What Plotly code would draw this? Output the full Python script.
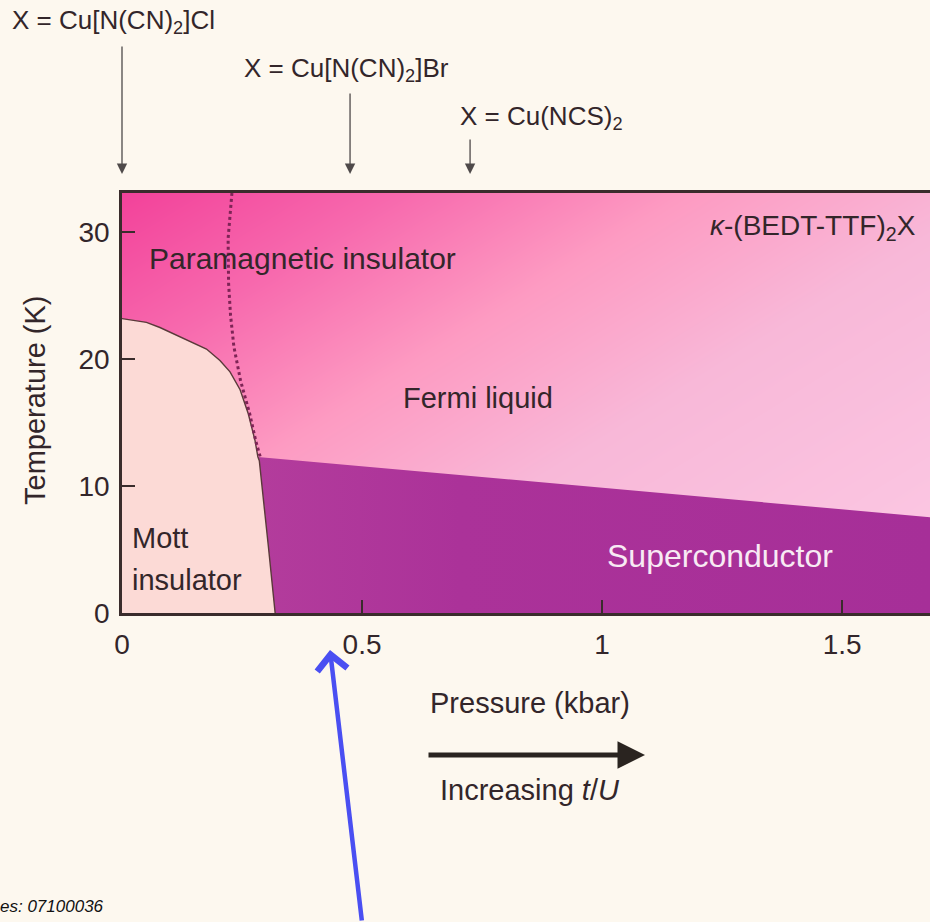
import numpy as np
import plotly.graph_objects as go

# --- phase-diagram data: pressure (kbar), temperature (K) ---
# Mott insulator boundary
mott_p = [0.0, 0.051, 0.079, 0.135, 0.176, 0.204, 0.225, 0.246, 0.263, 0.277, 0.283, 0.286, 0.295, 0.305, 0.319]
mott_t = [23.2, 22.9, 22.5, 21.5, 20.8, 19.9, 19.0, 17.6, 15.7, 13.6, 12.3, 12.0, 8.9, 5.2, 0.0]
# superconducting transition line
tc_p = [0.283, 1.683]
tc_t = [12.3, 7.55]
# insulator / Fermi-liquid crossover (dotted)
cross_p = [0.229, 0.221, 0.222, 0.226, 0.233, 0.247, 0.266, 0.279, 0.288]
cross_t = [33.1, 29.5, 26.0, 23.5, 21.0, 18.3, 15.7, 13.5, 12.3]
# ambient-pressure positions of the three salts
materials = ["X = Cu[N(CN)<sub>2</sub>]Cl", "X = Cu[N(CN)<sub>2</sub>]Br", "X = Cu(NCS)<sub>2</sub>"]
material_p = [0.0, 0.475, 0.725]
# axes
x_ticks = [0, 0.5, 1, 1.5]
x_ticktext = ["0", "0.5", "1", "1.5"]
y_ticks = [0, 10, 20, 30]
x_range = [0, 1.683]
y_range = [0, 33.1]

FONT = "Liberation Sans, Arial, Helvetica, sans-serif"
INK = "#33262a"
BG = "#fdf8ef"

W, H = 930, 922
L, T, B = 122, 193, 309
PW, PH = W - L, H - T - B


def px(xp):
    return (xp - L) / PW


def py(yp):
    return (H - B - yp) / PH


fig = go.Figure()

# pink background wash of the normal-state region
gx = np.linspace(-0.05, 1.75, 60)
gy = np.linspace(-1, 34, 45)
GX, GY = np.meshgrid(gx, gy)
shade = np.clip(0.6 * GX / 1.683 + 0.5 * (33.1 - GY) / 33.1, 0, 1)
fig.add_trace(go.Heatmap(
    x=gx, y=gy, z=shade, zmin=0, zmax=1, zsmooth="best", showscale=False,
    hoverinfo="skip",
    colorscale=[[0, "#f2429a"], [0.2, "#f768ad"], [0.42, "#fd9bc2"],
                [0.65, "#f8b8d8"], [1, "#fbc6e2"]],
))

# Mott insulator region
fig.add_trace(go.Scatter(
    x=[0] + mott_p + [0], y=[0] + mott_t + [0], fill="toself",
    fillcolor="#fcdad6", line=dict(width=0), mode="lines", hoverinfo="skip",
))

# superconducting region: below the Tc line and right of the Mott boundary
k = mott_p.index(tc_p[0])
sc_x = [tc_p[0]] + mott_p[k + 1:] + [tc_p[-1], tc_p[-1], tc_p[0]]
sc_y = [tc_t[0]] + mott_t[k + 1:] + [0, tc_t[-1], tc_t[0]]
fig.add_trace(go.Scatter(
    x=sc_x, y=sc_y, fill="toself", mode="lines", line=dict(width=0),
    fillgradient=dict(type="horizontal",
                      colorscale=[[0, "#b33c9c"], [0.3, "#ab3299"], [1, "#a62f98"]]),
    hoverinfo="skip",
))

# boundary lines
fig.add_trace(go.Scatter(
    x=mott_p, y=mott_t, mode="lines", line=dict(color="#5a3a3a", width=1.4),
    hoverinfo="skip",
))
fig.add_trace(go.Scatter(
    x=cross_p, y=cross_t, mode="lines",
    line=dict(color="#7e2456", width=3, dash="dot"), hoverinfo="skip",
))

ann = []


def label(text, xp, yp, size=29, color=INK, xanchor="left", **kw):
    ann.append(dict(text=text, xref="paper", yref="paper", x=px(xp), y=py(yp),
                    xanchor=xanchor, yanchor="middle", showarrow=False,
                    font=dict(family=FONT, size=size, color=color), **kw))


# region labels
label("Paramagnetic insulator", 147, 258, size=30)
label("<i>κ</i>-(BEDT-TTF)<sub>2</sub>X", 918, 227, xanchor="right", size=28)
label("Fermi liquid", 478, 398, xanchor="center", size=29)
label("Superconductor", 720, 556, xanchor="center", color="#f8eaf4", size=32)
label("Mott", 130, 538)
label("insulator", 130, 580)

# salt labels with arrows down to their pressure positions
label_pos = [(10, 22, 45), (242, 70, 92), (458, 118, 138)]
for name, p, (lx, ly, top) in zip(materials, material_p, label_pos):
    label(name, lx, ly, size=26)
    ann.append(dict(x=p, xref="x", y=py(174), yref="paper", ax=0, ay=top - 174,
                    axref="pixel", ayref="pixel", text="", showarrow=True,
                    arrowhead=2, arrowwidth=1.3, arrowsize=1.6,
                    arrowcolor="#4f4a4a"))

# axis titles
label("Temperature (K)", 35, 400, size=29, xanchor="center", textangle=-90)
label("Pressure (kbar)", 530, 703, size=29, xanchor="center")
label("Increasing <i>t</i>/<i>U</i>", 530, 790, size=29, xanchor="center")
ann.append(dict(x=px(645), y=py(755), xref="paper", yref="paper",
                ax=-218, ay=0, text="", showarrow=True, arrowhead=2,
                arrowwidth=5, arrowsize=1.1, arrowcolor="#2a2420"))

# blue pointer
ann.append(dict(x=px(330), y=py(650), xref="paper", yref="paper",
                ax=32, ay=300, text="", showarrow=True, arrowhead=4,
                arrowwidth=4.5, arrowsize=1.3, arrowcolor="#4a4ff2"))

# figure reference at the bottom
label("<i>es: 07100036</i>", -2, 906, size=17, color="#111111")

fig.update_layout(
    width=W, height=H, margin=dict(l=L, r=0, t=T, b=B, pad=0),
    paper_bgcolor=BG, plot_bgcolor=BG, showlegend=False,
    annotations=ann,
    xaxis=dict(range=x_range, tickvals=x_ticks, ticktext=x_ticktext,
               ticks="inside", ticklen=13, tickwidth=2, tickcolor="#3a2c2c",
               showline=True, linecolor="#3a2c2c", linewidth=2.5, mirror=True,
               showgrid=False, zeroline=False, ticklabelstandoff=5,
               tickfont=dict(family=FONT, size=28, color=INK)),
    yaxis=dict(range=y_range, tickvals=y_ticks, ticks="inside", ticklen=13,
               tickwidth=2, tickcolor="#3a2c2c", showline=True,
               linecolor="#3a2c2c", linewidth=2.5, showgrid=False,
               zeroline=False, ticklabelstandoff=4,
               tickfont=dict(family=FONT, size=28, color=INK)),
)

fig.write_html("out.html")
